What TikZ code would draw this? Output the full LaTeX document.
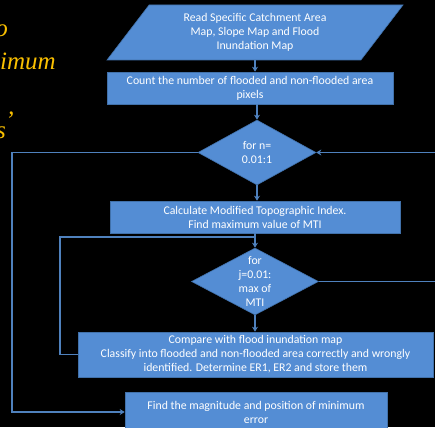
\documentclass[tikz,border=0pt]{standalone}
\usepackage{fontspec}
\setmainfont{Carlito}
\newfontfamily\slidefont{Liberation Serif}
\usetikzlibrary{shapes.geometric,arrows.meta}
\definecolor{boxblue}{RGB}{84,141,212}
\definecolor{edgeblue}{RGB}{65,113,170}
\definecolor{lineblue}{RGB}{79,129,189}
\definecolor{titlegold}{RGB}{250,192,0}
\tikzset{
  flowtext/.style={text=white, align=center, font=\fontsize{11.8}{14}\selectfont},
  flowbox/.style={flowtext, draw=edgeblue, fill=boxblue, line width=0.6pt, inner sep=2pt},
  procbox/.style={flowbox, rectangle},
  iobox/.style={flowbox, trapezium, trapezium left angle=45, trapezium right angle=135, trapezium stretches body},
  decbox/.style={flowbox, diamond, inner sep=0pt},
  link/.style={lineblue, line width=1.3pt},
  flow/.style={link, -{Stealth[length=5pt,width=6pt]}},
  slidetitle/.style={titlegold, font=\slidefont\itshape\fontsize{25}{28}\selectfont, inner sep=0pt},
}
\begin{document}
\begin{tikzpicture}[x=1pt, y=-1pt]
\clip (0,0) rectangle (435,427);
\fill[black] (0,0) rectangle (435,427);

% cut-off slide title
\node[slidetitle, anchor=base east] (title1) at (8,37) {o};
\node[slidetitle, anchor=base east] (title2) at (56,70) {imum};
\node[slidetitle, anchor=base east] (title3) at (14,129) {’};
\node[slidetitle, anchor=base east] (title4) at (6,139) {s};

% flow chart
\node[iobox, minimum width=296pt, minimum height=55pt] (read) at (255,32.5)
  {Read Specific Catchment Area\\Map, Slope Map and Flood\\Inundation Map};
\node[procbox, minimum width=286pt, minimum height=32pt] (count) at (250,88)
  {Count the number of flooded and non-flooded area\\pixels};
\node[decbox, minimum width=118pt, minimum height=65pt,
  label={[flowtext]center:for n=\\0.01:1}] (ndec) at (257,152.5) {};
\node[procbox, minimum width=290pt, minimum height=32pt] (calc) at (255,217)
  {Calculate Modified Topographic Index.\\Find maximum value of MTI};
\node[decbox, minimum width=127pt, minimum height=67pt,
  label={[flowtext]center:for\\j=0.01:\\max of\\MTI}] (jdec) at (255,281.5) {};
\node[procbox, minimum width=355pt, minimum height=45pt] (compare) at (255.5,354.5)
  {Compare with flood inundation map\\Classify into flooded and non-flooded area correctly and wrongly\\identified. Determine ER1, ER2 and store them};
\node[procbox, minimum width=262pt, minimum height=40pt] (find) at (256,412)
  {Find the magnitude and position of minimum\\error};

\coordinate (nback) at (440,152.5);
\coordinate (nloop) at (12,280);
\coordinate (jmerge) at (255,237);
\coordinate (jloop) at (60,300);
\coordinate (jexit) at (440,281.5);

\draw[flow] (read.south) -- (read.south |- count.north);
\draw[flow] (count.south -| ndec.north) -- (ndec.north);
\draw[flow] (ndec.south) -- (ndec.south |- calc.north);
\draw[flow] (calc.south -| jdec.north) -- (jdec.north);
\draw[flow] (jdec.south) -- (jdec.south |- compare.north);
\draw[flow] (nback) -- (ndec.east);
\draw[flow] (ndec.west) -| (nloop) |- (find.west);
\draw[link] (compare.west) -| (jloop) |- (jmerge);
\draw[link] (jdec.east) -- (jexit);
\end{tikzpicture}
\end{document}
